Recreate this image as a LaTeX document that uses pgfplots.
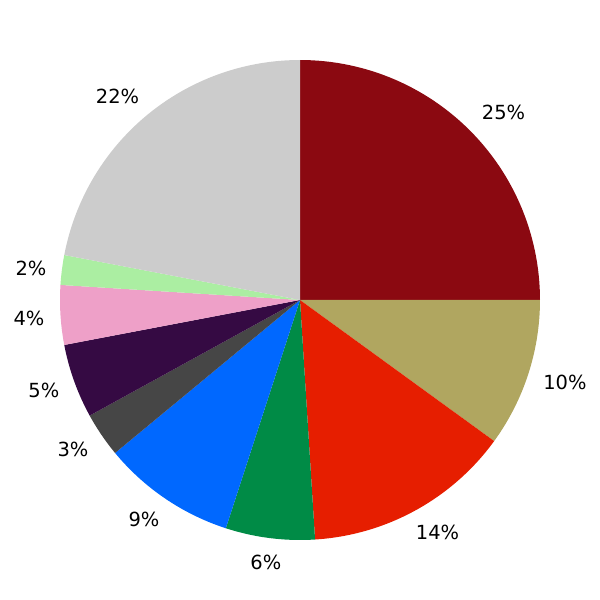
\documentclass[border=0pt]{standalone}
\usepackage{fontspec}
\setmainfont{DejaVu Sans}
\usepackage{pgfplots}
\pgfplotsset{compat=1.18}
\definecolor{c1}{HTML}{8B0911}
\definecolor{c2}{HTML}{B0A660}
\definecolor{c3}{HTML}{E61E00}
\definecolor{c4}{HTML}{008B46}
\definecolor{c5}{HTML}{0068FF}
\definecolor{c6}{HTML}{464646}
\definecolor{c7}{HTML}{350A43}
\definecolor{c8}{HTML}{EEA0C8}
\definecolor{c9}{HTML}{ABEEA2}
\definecolor{c10}{HTML}{CCCCCC}
\newcommand\lbl[3]{\node[inner sep=0pt, anchor=center, font=\fontsize{14pt}{17pt}\selectfont]
  at (axis cs:#1,#2) {#3};}
\begin{document}
\begin{tikzpicture}
\begin{axis}[hide axis, scale only axis, width=432pt, height=432pt,
  xmin=-1.25, xmax=1.25, ymin=-1.25, ymax=1.25, clip=false]
\path (rel axis cs:0,0) rectangle (rel axis cs:1,1);
% percentages: 25,10,14,6,9,3,5,4,2,22 (clockwise from top)
\addplot[fill=c1, draw=none, domain=0:90, samples=80] ({cos(x)},{sin(x)}) -- (0,0) -- cycle;
\addplot[fill=c2, draw=none, domain=-36:0, samples=40] ({cos(x)},{sin(x)}) -- (0,0) -- cycle;
\addplot[fill=c3, draw=none, domain=-86.4:-36, samples=50] ({cos(x)},{sin(x)}) -- (0,0) -- cycle;
\addplot[fill=c4, draw=none, domain=-108:-86.4, samples=30] ({cos(x)},{sin(x)}) -- (0,0) -- cycle;
\addplot[fill=c5, draw=none, domain=-140.4:-108, samples=40] ({cos(x)},{sin(x)}) -- (0,0) -- cycle;
\addplot[fill=c6, draw=none, domain=-151.2:-140.4, samples=20] ({cos(x)},{sin(x)}) -- (0,0) -- cycle;
\addplot[fill=c7, draw=none, domain=-169.2:-151.2, samples=25] ({cos(x)},{sin(x)}) -- (0,0) -- cycle;
\addplot[fill=c8, draw=none, domain=-183.6:-169.2, samples=20] ({cos(x)},{sin(x)}) -- (0,0) -- cycle;
\addplot[fill=c9, draw=none, domain=-190.8:-183.6, samples=15] ({cos(x)},{sin(x)}) -- (0,0) -- cycle;
\addplot[fill=c10, draw=none, domain=-270:-190.8, samples=80] ({cos(x)},{sin(x)}) -- (0,0) -- cycle;
\lbl{0.848}{0.783}{25\%}
\lbl{1.104}{-0.342}{10\%}
\lbl{0.573}{-0.967}{14\%}
\lbl{-0.142}{-1.092}{6\%}
\lbl{-0.650}{-0.913}{9\%}
\lbl{-0.946}{-0.621}{3\%}
\lbl{-1.067}{-0.375}{5\%}
\lbl{-1.129}{-0.075}{4\%}
\lbl{-1.121}{0.133}{2\%}
\lbl{-0.760}{0.850}{22\%}
\end{axis}
\end{tikzpicture}
\end{document}
